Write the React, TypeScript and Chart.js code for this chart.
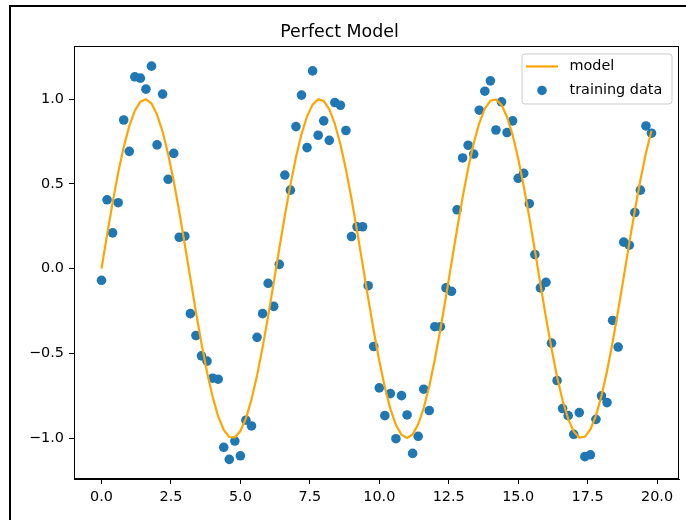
import React, { useEffect, useRef } from "react";
import { Chart, registerables } from "chart.js";

Chart.register(...registerables);

const titleText = "Perfect Model";
const modelLabel = "model";
const dataLabel = "training data";

const xValues = [
  0, 0.2, 0.4, 0.6, 0.8, 1, 1.2, 1.4, 1.6, 1.8,
  2, 2.2, 2.4, 2.6, 2.8, 3, 3.2, 3.4, 3.6, 3.8,
  4, 4.2, 4.4, 4.6, 4.8, 5, 5.2, 5.4, 5.6, 5.8,
  6, 6.2, 6.4, 6.6, 6.8, 7, 7.2, 7.4, 7.6, 7.8,
  8, 8.2, 8.4, 8.6, 8.8, 9, 9.2, 9.4, 9.6, 9.8,
  10, 10.2, 10.4, 10.6, 10.8, 11, 11.2, 11.4, 11.6, 11.8,
  12, 12.2, 12.4, 12.6, 12.8, 13, 13.2, 13.4, 13.6, 13.8,
  14, 14.2, 14.4, 14.6, 14.8, 15, 15.2, 15.4, 15.6, 15.8,
  16, 16.2, 16.4, 16.6, 16.8, 17, 17.2, 17.4, 17.6, 17.8,
  18, 18.2, 18.4, 18.6, 18.8, 19, 19.2, 19.4, 19.6, 19.8,
];

const modelValues = [
  0.0, 0.199, 0.389, 0.565, 0.717, 0.841, 0.932, 0.985, 1.0, 0.974,
  0.909, 0.808, 0.675, 0.516, 0.335, 0.141, -0.058, -0.256, -0.443, -0.612,
  -0.757, -0.872, -0.952, -0.994, -0.996, -0.959, -0.884, -0.773, -0.631, -0.465,
  -0.279, -0.083, 0.117, 0.312, 0.494, 0.657, 0.794, 0.899, 0.968, 0.999,
  0.989, 0.941, 0.855, 0.734, 0.585, 0.412, 0.223, 0.025, -0.174, -0.367,
  -0.544, -0.7, -0.828, -0.923, -0.981, -1.0, -0.979, -0.919, -0.823, -0.694,
  -0.537, -0.358, -0.166, 0.034, 0.232, 0.42, 0.592, 0.74, 0.859, 0.944,
  0.991, 0.998, 0.966, 0.895, 0.788, 0.65, 0.486, 0.304, 0.108, -0.092,
  -0.288, -0.471, -0.638, -0.779, -0.887, -0.961, -0.997, -0.993, -0.949, -0.868,
  -0.751, -0.605, -0.435, -0.247, -0.05, 0.15, 0.343, 0.523, 0.682, 0.814,
];

const trainingValues = [
  -0.069, 0.406, 0.211, 0.389, 0.877, 0.692, 1.132, 1.124, 1.059, 1.195,
  0.73, 1.03, 0.527, 0.68, 0.185, 0.191, -0.266, -0.395, -0.515, -0.546,
  -0.647, -0.653, -1.055, -1.126, -1.018, -1.105, -0.895, -0.929, -0.406, -0.266,
  -0.087, -0.223, 0.025, 0.552, 0.463, 0.838, 1.024, 0.714, 1.167, 0.787,
  0.872, 0.757, 0.98, 0.964, 0.815, 0.189, 0.247, 0.247, -0.101, -0.46,
  -0.704, -0.868, -0.738, -1.004, -0.75, -0.864, -1.091, -0.99, -0.712, -0.838,
  -0.343, -0.343, -0.114, -0.134, 0.347, 0.653, 0.728, 0.676, 0.935, 1.047,
  1.108, 0.818, 0.984, 0.803, 0.872, 0.533, 0.562, 0.383, 0.083, -0.114,
  -0.081, -0.44, -0.661, -0.826, -0.868, -0.978, -0.85, -1.11, -1.099, -0.89,
  -0.751, -0.791, -0.306, -0.463, 0.156, 0.138, 0.331, 0.463, 0.842, 0.799,
];

const xTicks = [0, 2.5, 5, 7.5, 10, 12.5, 15, 17.5, 20];
const yTicks = [-1.0, -0.5, 0.0, 0.5, 1.0];

const FONT = "'DejaVu Sans', sans-serif";
const LINE_COLOR = "#ffa500";
const DOT_COLOR = "#1f77b4";

const fmt = (v: any) => {
  const s = Number(v).toFixed(1);
  return s.startsWith("-") ? "\u2212" + s.slice(1) : s;
};

const framePlugin = {
  id: "frameAndLegend",
  beforeDraw(chart: any) {
    const ctx = chart.ctx;
    ctx.save();
    ctx.fillStyle = "#ffffff";
    ctx.fillRect(0, 0, chart.width, chart.height);
    ctx.restore();
  },
  afterDraw(chart: any) {
    const ctx = chart.ctx;
    const ca = chart.chartArea;
    ctx.save();
    ctx.strokeStyle = "#000000";
    ctx.lineWidth = 1;
    ctx.strokeRect(Math.round(ca.left) + 0.5, Math.round(ca.top) + 0.5, Math.round(ca.right - ca.left) - 1, Math.round(ca.bottom - ca.top) - 1);
    ctx.fillStyle = "#000000";
    ctx.fillRect(9, 5, 2, chart.height - 5);
    ctx.fillRect(9, 5, chart.width - 9, 2);

    const w = 150;
    const h = 50;
    const right = ca.right - 7;
    const top = ca.top + 7.5;
    const left = right - w;
    const r = 3;
    ctx.beginPath();
    ctx.moveTo(left + r, top);
    ctx.lineTo(right - r, top);
    ctx.arcTo(right, top, right, top + r, r);
    ctx.lineTo(right, top + h - r);
    ctx.arcTo(right, top + h, right - r, top + h, r);
    ctx.lineTo(left + r, top + h);
    ctx.arcTo(left, top + h, left, top + h - r, r);
    ctx.lineTo(left, top + r);
    ctx.arcTo(left, top, left + r, top, r);
    ctx.closePath();
    ctx.fillStyle = "rgba(255,255,255,0.8)";
    ctx.fill();
    ctx.strokeStyle = "#cccccc";
    ctx.lineWidth = 1;
    ctx.stroke();

    const row1 = top + 12.5;
    const row2 = top + 36.5;
    ctx.strokeStyle = LINE_COLOR;
    ctx.lineWidth = 2.2;
    ctx.beginPath();
    ctx.moveTo(left + 4, row1);
    ctx.lineTo(left + 36, row1);
    ctx.stroke();

    ctx.fillStyle = DOT_COLOR;
    ctx.beginPath();
    ctx.arc(left + 20, row2, 4.8, 0, Math.PI * 2);
    ctx.fill();

    ctx.fillStyle = "#000000";
    ctx.font = `14.4px ${FONT}`;
    ctx.textBaseline = "middle";
    ctx.textAlign = "left";
    ctx.fillText(modelLabel, left + 47.5, row1);
    ctx.fillText(dataLabel, left + 47.5, row2);
    ctx.restore();
  },
};

export default function App() {
  const canvasRef = useRef<HTMLCanvasElement | null>(null);

  useEffect(() => {
    const canvas = canvasRef.current;
    if (!canvas) return;
    const chart = new Chart(canvas, {
      type: "scatter",
      data: {
        datasets: [
          {
            type: "line",
            label: modelLabel,
            data: xValues.map((x, i) => ({ x, y: modelValues[i] })),
            borderColor: LINE_COLOR,
            backgroundColor: LINE_COLOR,
            borderWidth: 2.2,
            pointRadius: 0,
            tension: 0,
            fill: false,
            order: 0,
          } as any,
          {
            type: "scatter",
            label: dataLabel,
            data: xValues.map((x, i) => ({ x, y: trainingValues[i] })),
            backgroundColor: DOT_COLOR,
            borderWidth: 0,
            pointRadius: 4.8,
            order: 1,
          },
        ],
      },
      options: {
        animation: false,
        responsive: false,
        devicePixelRatio: 1,
        layout: { padding: { left: 0, right: 7, top: 0, bottom: 0 } },
        plugins: {
          legend: { display: false },
          tooltip: { enabled: false },
          title: {
            display: true,
            text: titleText,
            color: "#000000",
            font: { family: FONT, size: 17.4, weight: "normal", lineHeight: 1.2 },
            padding: { top: 22, bottom: 3.6 },
          },
        },
        scales: {
          x: {
            type: "linear",
            min: -0.99,
            max: 20.79,
            afterFit: (scale: any) => {
              scale.height = 41;
            },
            afterBuildTicks: (scale: any) => {
              scale.ticks = xTicks.map((v) => ({ value: v }));
            },
            ticks: {
              color: "#000000",
              font: { family: FONT, size: 14.4, lineHeight: 1.2 },
              padding: 5,
              maxRotation: 0,
              autoSkip: false,
              callback: fmt,
            },
            grid: {
              display: true,
              drawOnChartArea: false,
              drawTicks: true,
              tickLength: 5,
              color: "#000000",
              lineWidth: 1,
            },
            border: { display: true, color: "#000000", width: 1 },
          },
          y: {
            type: "linear",
            min: -1.242,
            max: 1.311,
            afterFit: (scale: any) => {
              scale.width = 74;
            },
            afterBuildTicks: (scale: any) => {
              scale.ticks = yTicks.map((v) => ({ value: v }));
            },
            ticks: {
              color: "#000000",
              font: { family: FONT, size: 14.4, lineHeight: 1.2 },
              padding: 5,
              autoSkip: false,
              callback: fmt,
            },
            grid: {
              display: true,
              drawOnChartArea: false,
              drawTicks: true,
              tickLength: 5,
              color: "#000000",
              lineWidth: 1,
            },
            border: { display: true, color: "#000000", width: 1 },
          },
        },
      },
      plugins: [framePlugin],
    });
    return () => {
      chart.destroy();
    };
  }, []);

  return (
    <div style={{ position: "absolute", left: 0, top: 0, width: 686, height: 520, background: "#ffffff" }}>
      <canvas ref={canvasRef} width={686} height={520} style={{ display: "block", width: 686, height: 520 }} />
    </div>
  );
}
